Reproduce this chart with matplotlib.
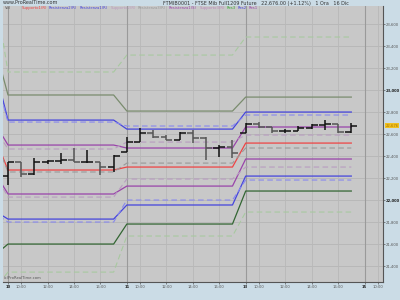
import matplotlib
matplotlib.use("Agg")
import matplotlib.pyplot as plt
import numpy as np

# ---- data ----
day_labels = ["10", "11", "13", "15"]
hour_labels = ["10:00", "12:00", "14:00", "16:00"]
opens  = [22218, 22345, 22236, 22345, 22355, 22364, 22345, 22345, 22300,
          22436, 22527, 22609, 22573, 22545, 22609, 22564, 22473, 22482,
          22609, 22691, 22664, 22627, 22627, 22655, 22682, 22691, 22618]
highs  = [22345, 22350, 22382, 22364, 22427, 22473, 22455, 22350, 22409,
          22573, 22655, 22636, 22591, 22618, 22636, 22570, 22500, 22545,
          22700, 22709, 22664, 22645, 22673, 22691, 22727, 22695, 22700]
lows   = [22136, 22209, 22230, 22327, 22327, 22345, 22336, 22227, 22255,
          22436, 22527, 22564, 22545, 22545, 22518, 22364, 22391, 22382,
          22609, 22655, 22609, 22609, 22627, 22645, 22636, 22609, 22609]
closes = [22345, 22236, 22345, 22355, 22364, 22345, 22345, 22300, 22400,
          22527, 22609, 22573, 22545, 22609, 22564, 22473, 22482, 22427,
          22691, 22664, 22627, 22627, 22655, 22682, 22691, 22618, 22676]

# daily pivot levels: [previous day, day 10, day 11, day 13]
lvl_r3_dash = [23900, 23164, 23318, 23482]
lvl_r3      = [23400, 22955, 22809, 22936]
lvl_r2      = [23200, 22727, 22645, 22800]
lvl_r2_dash = [23150, 22709, 22673, 22773]
lvl_r1      = [22700, 22500, 22473, 22664]
lvl_r1_dash = [22650, 22464, 22527, 22591]
lvl_p       = [22570, 22273, 22300, 22518]
lvl_p_dash  = [22560, 22255, 22336, 22473]
lvl_s1      = [22250, 22055, 22127, 22373]
lvl_s1_dash = [22240, 22027, 22191, 22300]
lvl_s2      = [21900, 21827, 21955, 22218]
lvl_s2_dash = [21880, 21800, 22000, 22182]
lvl_s3      = [21500, 21600, 21782, 22082]
lvl_s3_dash = [21200, 21345, 21673, 21891]

price_ticks = [21400, 21600, 21800, 22000, 22200, 22400, 22600, 22800,
               23000, 23200, 23400, 23600]
last_price = 22676

# ---- figure ----
BG = "#cbdce6"
PLOT = "#c8c8c8"
YMIN, YMAX = 21255, 23764
fig = plt.figure(figsize=(4, 3), dpi=100, facecolor=BG)
ax = fig.add_axes([3/400, 18/300, 380/400, 276/300])
ax.set_facecolor(PLOT)

n_days = 3
bars_per_day = 9
n = len(closes)
x = np.arange(n)

ax.set_xlim(-0.38, 28.4)
ax.set_ylim(YMIN, YMAX)

# grid
for t in price_ticks:
    ax.axhline(t, color="#b5b5b5", lw=0.6, zorder=1)
for d in range(len(day_labels)):
    ax.axvline(d * bars_per_day, color="#9a9a9a", lw=0.8, zorder=1)
    for k in range(len(hour_labels)):
        ax.axvline(d * bars_per_day + 1 + 2 * k, color="#b8b8b8", lw=0.6, zorder=1)

# pivot lines
def series(levels):
    xs = [-1]
    ys = [levels[0]]
    for d in range(n_days):
        xs += [d * bars_per_day, d * bars_per_day + bars_per_day - 1]
        ys += [levels[d + 1], levels[d + 1]]
    return xs, ys

line_specs = [
    (lvl_r3_dash, "#a8c8a0", (0, (5, 3)), 0.8),
    (lvl_r3, "#7a8c6e", "-", 0.9),
    (lvl_r2, "#4444dd", "-", 0.9),
    (lvl_r2_dash, "#8888ee", (0, (5, 3)), 0.8),
    (lvl_r1, "#9944aa", "-", 0.9),
    (lvl_r1_dash, "#b89cc0", (0, (5, 3)), 0.8),
    (lvl_p, "#ee4444", "-", 0.9),
    (lvl_p_dash, "#999999", (0, (5, 3)), 0.8),
    (lvl_s1, "#9944aa", "-", 0.9),
    (lvl_s1_dash, "#b89cc0", (0, (5, 3)), 0.8),
    (lvl_s2, "#4444dd", "-", 0.9),
    (lvl_s2_dash, "#8888ee", (0, (5, 3)), 0.8),
    (lvl_s3, "#336633", "-", 0.9),
    (lvl_s3_dash, "#a8c8a0", (0, (5, 3)), 0.8),
]
for lv, c, ls, lw in line_specs:
    xs, ys = series(lv)
    ax.plot(xs, ys, color=c, ls=ls, lw=lw, zorder=2)

# OHLC bars
tick_w = 0.45
for i in range(n):
    col = "#111111" if closes[i] >= opens[i] else "#555555"
    ax.vlines(x[i], lows[i], highs[i], color=col, lw=1.1, zorder=4)
    ax.hlines(opens[i], x[i] - tick_w, x[i], color=col, lw=1.1, zorder=4)
    ax.hlines(closes[i], x[i], x[i] + tick_w, color=col, lw=1.1, zorder=4)

# axes / ticks
FS = 2.7
ax.yaxis.tick_right()
ax.set_yticks(price_ticks)
ax.set_yticklabels([f"{t:,}" for t in price_ticks], fontsize=FS, color="#555555")
for lbl, t in zip(ax.get_yticklabels(), price_ticks):
    if t in (22000, 23000):
        lbl.set_color("#222222")
        lbl.set_fontweight("bold")
xt, xl = [], []
for d, dl in enumerate(day_labels):
    xt.append(d * bars_per_day); xl.append(dl)
    for k, hl in enumerate(hour_labels):
        if d * bars_per_day + 1 + 2 * k <= 28:
            xt.append(d * bars_per_day + 1 + 2 * k); xl.append(hl)
ax.set_xticks(xt)
ax.set_xticklabels(xl, fontsize=FS, color="#555555")
for lbl, t in zip(ax.get_xticklabels(), xt):
    if t % bars_per_day == 0:
        lbl.set_fontweight("bold")
        lbl.set_color("#222222")
ax.tick_params(axis="both", length=1.2, width=0.5, color="#555555", pad=0.8)
for s in ["top", "left"]:
    ax.spines[s].set_visible(False)
for s in ["right", "bottom"]:
    ax.spines[s].set_color("#555555")
    ax.spines[s].set_linewidth(0.8)

# last price label
ax.text(1.006, (last_price - YMIN) / (YMAX - YMIN), f"{last_price:,}",
        transform=ax.transAxes, fontsize=FS, color="#aa7700", va="center",
        ha="left", bbox=dict(boxstyle="square,pad=0.1", fc="#f0c020", ec="none"))

# header texts
fig.text(3/400, 1 - 3/300, "www.ProRealTime.com", fontsize=3.5, color="#333333", va="center")
fig.text(163/400, 1 - 3/300,
         "FTMIB0001 - FTSE Mib Full1209 Future   22,676.00 (+1.12%)   1 Ora   16 Dic",
         fontsize=3.5, color="#333333", va="center")
legend_items = [("Supporto1(R)", "#ee4444"), ("Resistenza2(R)", "#4444dd"),
                ("Resistenza1(R)", "#4444dd"), ("Supporto2(R)", "#bb99bb"),
                ("Resistenza3(R)", "#999999"), ("Resistenza1(S)", "#9944aa"),
                ("Supporto3(R)", "#bb88bb"), ("Res3", "#33aa33"), ("Res2", "#4444dd"),
                ("Res1", "#9944aa")]
xpos = 22
for txt, c in legend_items:
    fig.text(xpos/400, 1 - 8/300, txt, fontsize=2.7, color=c, va="center")
    xpos += len(txt) * 2.0 + 3
fig.text(5/400, 1 - 8/300, "Vol", fontsize=2.7, color="#555555", va="center")
ax.text(0.002, 0.01, "(c)ProRealTime.com", transform=ax.transAxes, fontsize=2.7,
        color="#555555")

fig.savefig("out.png", dpi=100, facecolor=BG)
